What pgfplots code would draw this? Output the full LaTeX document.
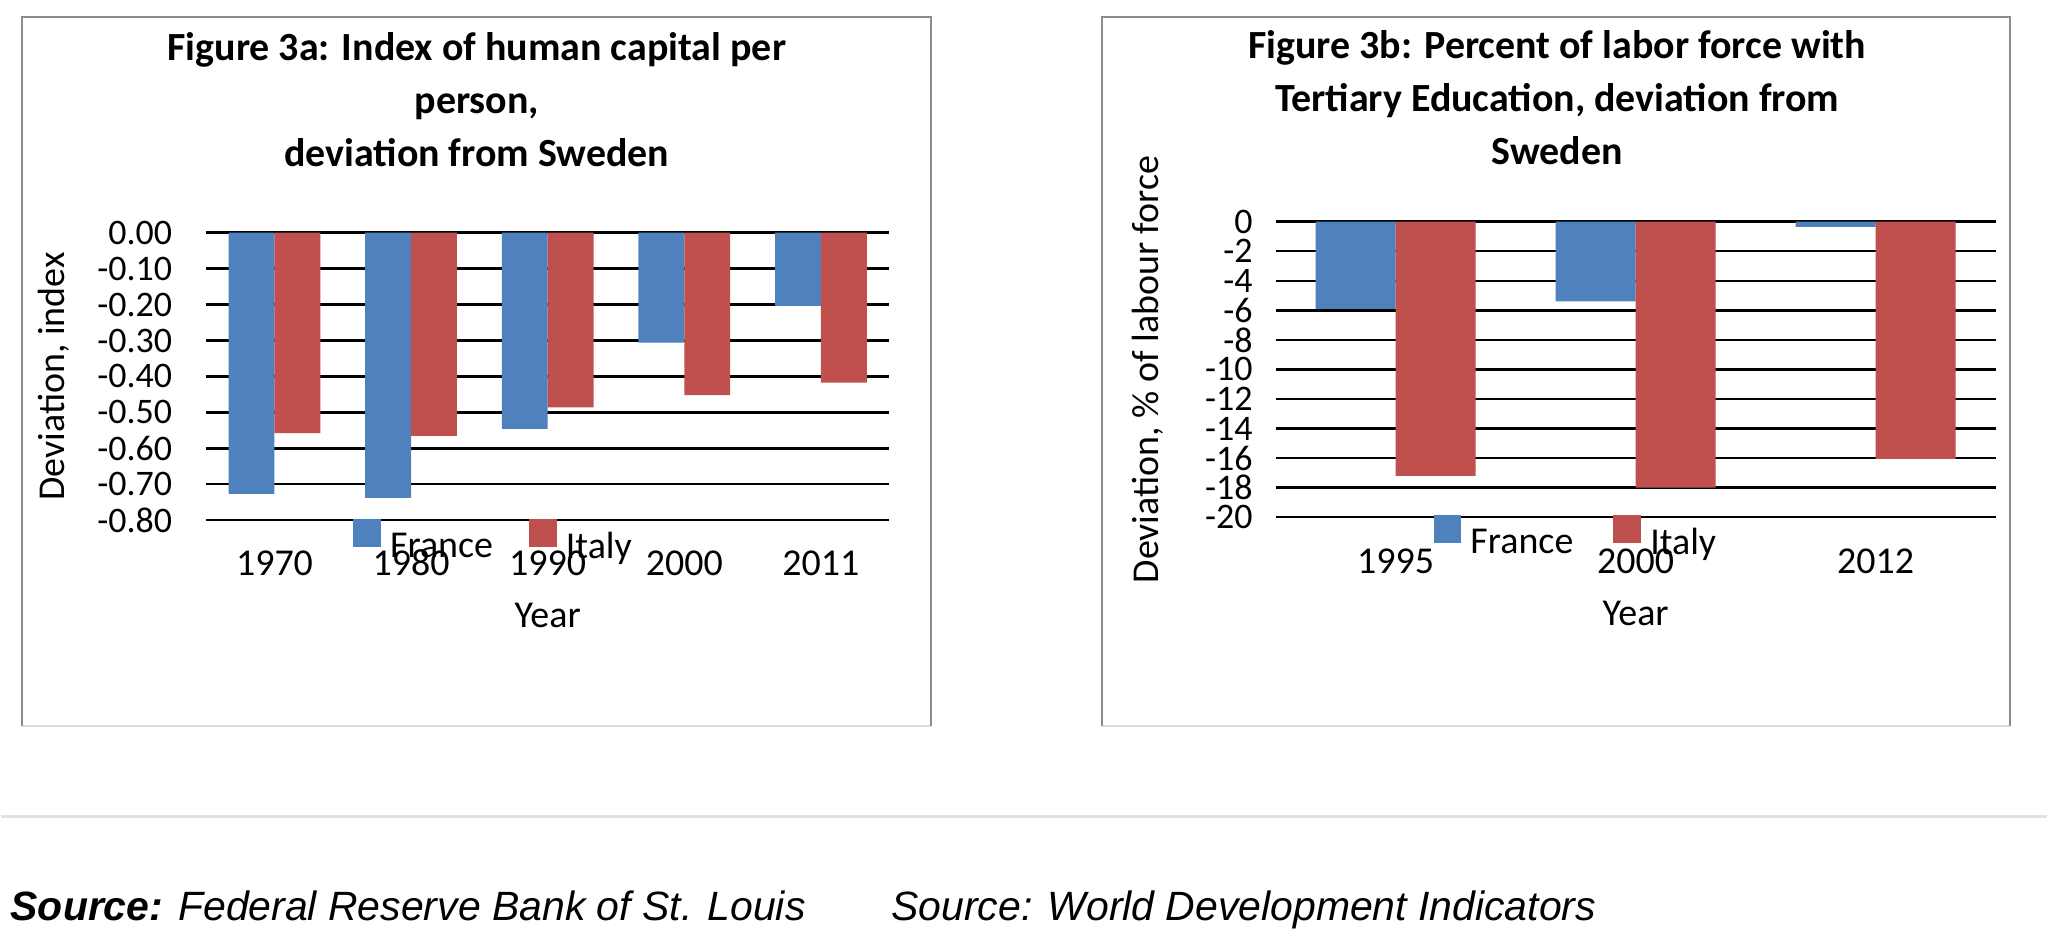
\documentclass[border=0pt]{standalone}
\usepackage{fontspec}
\setmainfont{Carlito}
\newfontfamily\srcfont{Liberation Sans}
\usepackage{pgfplots}
\usepackage{pgfplotstable}
\pgfplotsset{compat=1.18}
\definecolor{fr}{HTML}{4F81BD}
\definecolor{it}{HTML}{C0504D}
\definecolor{framegray}{HTML}{8C8C8C}
\definecolor{framelight}{HTML}{DCDCDC}
\definecolor{seplight}{HTML}{E2E2E2}

\pgfplotstableread{
x fr it
0 -0.727 -0.558
1 -0.738 -0.565
2 -0.546 -0.486
3 -0.306 -0.452
4 -0.204 -0.417
}\tablea

\pgfplotstableread{
x fr it
0 -5.9 -17.2
1 -5.4 -18.0
2 -0.35 -16.05
}\tableb

\pgfplotsset{
  sqlegend/.style={legend image code/.code={\fill[##1] (0pt,-1pt) rectangle (28pt,27pt);}},
  chartstyle/.style={
    scale only axis,
    anchor=south west,
    axis line style={draw=none},
    major tick length=0pt,
    tick style={draw=none},
    ymajorgrids,
    major grid style={line width=2.4pt, black},
    ybar,
    xticklabel style={font=\fontsize{38}{40}\selectfont, anchor=center, inner sep=0pt},
    yticklabel style={font=\fontsize{36}{40}\selectfont, anchor=east, inner sep=0pt},
    label style={font=\fontsize{38}{42}\selectfont},
    legend columns=2,
    legend cell align=left,
    legend style={draw=none, fill=none, inner sep=0pt, anchor=west,
      font=\fontsize{38}{40}\selectfont,
      nodes={inner sep=0pt},
      /tikz/every odd column/.style={column sep=9pt},
      /tikz/every even column/.style={column sep=36pt}},
  }
}

\begin{document}
\begin{tikzpicture}[x=1pt,y=1pt]
\fill[white] (0,0) rectangle (2048,950);
% frames
\draw[framelight, line width=2pt] (21,223) -- (931,223);
\draw[framegray, line width=2pt] (21,223) -- (21,933) -- (931,933) -- (931,223);
\draw[framelight, line width=2pt] (1102,223) -- (2011,223);
\draw[framegray, line width=2pt] (1102,223) -- (1102,933) -- (2011,933) -- (2011,223);
% separator
\draw[seplight, line width=3pt] (0,132) -- (2048,132);

% titles
\node[align=center, font=\bfseries\fontsize{40}{53}\selectfont] at (476,850)
  {Figure 3a: Index of human capital per\\person,\\deviation from Sweden};
\node[align=center, font=\bfseries\fontsize{40}{53}\selectfont] at (1558,852)
  {Figure 3b: Percent of labor force with\\Tertiary Education, deviation from\\Sweden};

% chart a
\begin{axis}[chartstyle,
  at={(205pt,429pt)}, width=684pt, height=288pt,
  xmin=-0.5, xmax=4.5, ymin=-0.8, ymax=0,
  xtick={0,1,2,3,4}, xticklabels={1970,1980,1990,2000,2011},
  ytick={-0.8,-0.7,-0.6,-0.5,-0.4,-0.3,-0.2,-0.1,0},
  yticklabels={-0.80,-0.70,-0.60,-0.50,-0.40,-0.30,-0.20,-0.10,0.00},
  xticklabel style={yshift=-43pt},
  yticklabel style={xshift=-34pt},
  xlabel={Year}, ylabel={Deviation, index},
  xlabel style={at={(axis description cs:0.5,-0.330)}, anchor=center},
  ylabel style={at={(axis description cs:-0.2237,0.5)}, anchor=center},
  legend style={at={(axis description cs:0.2149,-0.066)}},
]
\addplot[ybar, fill=fr, draw=none, bar width=0.336, bar shift=-0.168, sqlegend] table[x=x,y=fr]{\tablea};
\addplot[ybar, fill=it, draw=none, bar width=0.336, bar shift=0.168, sqlegend] table[x=x,y=it]{\tablea};
\legend{France, Italy}
\end{axis}

% chart b
\begin{axis}[chartstyle,
  at={(1276pt,432pt)}, width=721pt, height=296pt,
  xmin=-0.5, xmax=2.5, ymin=-20, ymax=0,
  xtick={0,1,2}, xticklabels={1995,2000,2012},
  ytick={-20,-18,-16,-14,-12,-10,-8,-6,-4,-2,0},
  yticklabels={-20,-18,-16,-14,-12,-10,-8,-6,-4,-2,0},
  xticklabel style={yshift=-44pt},
  yticklabel style={xshift=-23pt},
  xlabel={Year}, ylabel={Deviation, \% of labour force},
  xlabel style={at={(axis description cs:0.5,-0.324)}, anchor=center},
  ylabel style={at={(axis description cs:-0.1775,0.5)}, anchor=center},
  legend style={at={(axis description cs:0.219,-0.061)}},
  legend style={/tikz/every even column/.style={column sep=40pt}},
]
\addplot[ybar, fill=fr, draw=none, bar width=0.3333, bar shift=-0.16667, sqlegend] table[x=x,y=fr]{\tableb};
\addplot[ybar, fill=it, draw=none, bar width=0.3333, bar shift=0.16667, sqlegend] table[x=x,y=it]{\tableb};
\legend{France, Italy}
\end{axis}

% sources
\node[anchor=base west, inner sep=0pt, font=\srcfont\fontsize{41}{49}\selectfont] at (9,28)
  {\textbf{\textit{Source:}} \textit{Federal Reserve Bank of St. Louis}};
\node[anchor=base west, inner sep=0pt, font=\srcfont\fontsize{41}{49}\selectfont] at (891,28)
  {\textit{Source: World Development Indicators}};
\end{tikzpicture}
\end{document}
